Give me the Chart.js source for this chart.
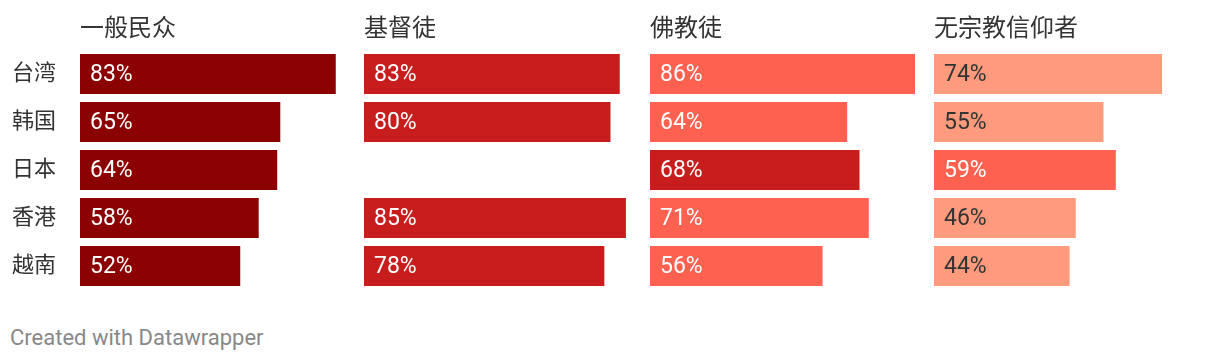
<!DOCTYPE html>
<html>
<head>
<meta charset="utf-8">
<script src="https://cdn.jsdelivr.net/npm/chart.js@4"></script>
<style>
  html, body { margin: 0; padding: 0; background: #fff; }
  #wrap { position: relative; width: 1220px; height: 362px; overflow: hidden; }
  #wrap canvas { position: absolute; top: 0; }
  #credit { position: absolute; left: 10px; top: 325px; font: 22px Roboto, sans-serif; color: #888; line-height: 26px; }
</style>
</head>
<body>
<div id="wrap">
  <canvas id="p0"></canvas>
  <canvas id="p1"></canvas>
  <canvas id="p2"></canvas>
  <canvas id="p3"></canvas>
  <div id="credit">Created with Datawrapper</div>
</div>
<script>
// Share of people (%) per place and group
const categories   = ['台湾', '韩国', '日本', '香港', '越南'];
const panelTitles  = ['一般民众', '基督徒', '佛教徒', '无宗教信仰者'];
const general      = [83, 65, 64, 58, 52];
const christian    = [83, 80, null, 85, 78];
const buddhist     = [86, 64, 68, 71, 56];
const unaffiliated = [74, 55, 59, 46, 44];
const seriesList   = [general, christian, buddhist, unaffiliated];

// Styling
const FAMILY = "Roboto, 'Noto Sans CJK SC', sans-serif";
const DARK = '#8b0000', RED = '#c71e1d', CORAL = '#ff6150', SALMON = '#ff9b7d';
const barColors = [
  [DARK, DARK, DARK, DARK, DARK],
  [RED, RED, RED, RED, RED],
  [CORAL, CORAL, RED, CORAL, CORAL],
  [SALMON, SALMON, CORAL, SALMON, SALMON]
];
const labelColor = c => (c === SALMON ? '#333' : '#fff');
const panelLeft = [80, 364, 650, 934];
const AREA_W = 265;

// Draws the panel heading, the row names (first panel) and the value inside each bar
const panelText = {
  id: 'panelText',
  afterDatasetsDraw(chart, args, opts) {
    const ctx = chart.ctx;
    const yScale = chart.scales.y;
    ctx.save();
    ctx.textBaseline = 'middle';
    ctx.textAlign = 'left';
    ctx.font = '24px ' + FAMILY;
    ctx.fillStyle = '#333';
    ctx.fillText(opts.heading, chart.chartArea.left, 30);
    if (opts.rowNames) {
      ctx.font = '22px ' + FAMILY;
      chart.data.labels.forEach((name, i) => {
        ctx.fillText(name, 12, yScale.getPixelForValue(i));
      });
    }
    const ds = chart.data.datasets[0];
    ctx.font = '23px ' + FAMILY;
    chart.getDatasetMeta(0).data.forEach((bar, i) => {
      const v = ds.data[i];
      if (v == null) return;
      ctx.fillStyle = labelColor(ds.backgroundColor[i]);
      ctx.fillText(v + '%', bar.base + 10, bar.y + 1);
    });
    ctx.restore();
  }
};

seriesList.forEach((values, p) => {
  const canvas = document.getElementById('p' + p);
  const first = p === 0;
  const left = first ? 0 : panelLeft[p];
  const padLeft = first ? panelLeft[0] : 0;
  canvas.width = padLeft + AREA_W + 5;
  canvas.height = 300;
  canvas.style.left = left + 'px';

  new Chart(canvas, {
    type: 'bar',
    data: {
      labels: categories,
      datasets: [{
        data: values,
        backgroundColor: barColors[p],
        barPercentage: 40 / 48,
        categoryPercentage: 1,
        borderWidth: 0
      }]
    },
    plugins: [panelText],
    options: {
      indexAxis: 'y',
      responsive: false,
      animation: false,
      events: [],
      layout: { padding: { top: 50, bottom: 10, left: padLeft, right: 5 } },
      scales: {
        x: { display: false, min: 0, max: 86 },
        y: { display: false }
      },
      plugins: {
        legend: { display: false },
        tooltip: { enabled: false },
        title: { display: false },
        panelText: { heading: panelTitles[p], rowNames: first }
      }
    }
  });
});
</script>
</body>
</html>
